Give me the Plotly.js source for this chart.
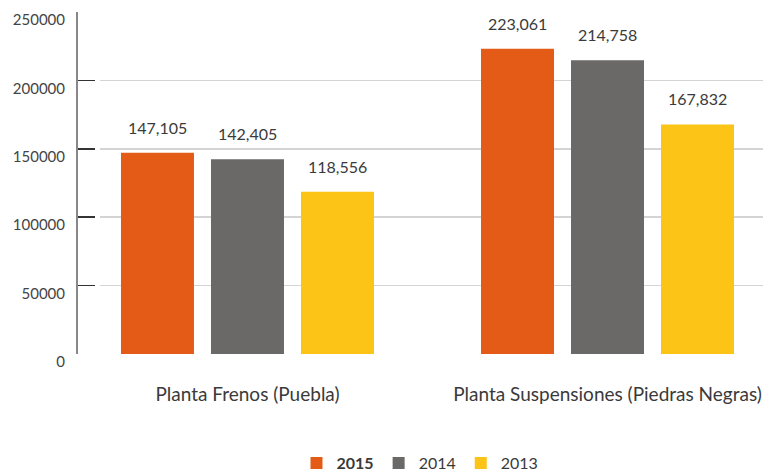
<!DOCTYPE html>
<html><head><meta charset="utf-8">
<script src="https://cdn.plot.ly/plotly-3.0.1.min.js"></script>
<style>html,body{margin:0;padding:0;background:#fff}#c{width:763px;height:471px}</style>
</head><body><div id="c"></div>
<script>
const categories = ["Planta Frenos (Puebla)", "Planta Suspensiones (Piedras Negras)"];
const seriesNames = ["2015", "2014", "2013"];
const values2015 = [147105, 223061];
const values2014 = [142405, 214758];
const values2013 = [118556, 167832];
const colors = ["#E35B16", "#6A6967", "#FCC416"];
const yTicks = [0, 50000, 100000, 150000, 200000, 250000];

const seriesValues = [values2015, values2014, values2013];
const font = "Lato, 'Source Sans Pro', 'Open Sans', sans-serif";

const traces = seriesValues.map((vals, i) => ({
  type: "bar",
  x: categories,
  y: vals,
  name: i === 0 ? "<b>" + seriesNames[i] + "</b>" : seriesNames[i],
  marker: {color: colors[i]},
  hoverinfo: "skip"
}));

const annotations = [];
seriesValues.forEach((vals, i) => {
  vals.forEach((v, j) => {
    annotations.push({
      x: categories[j], y: v, xref: "x", yref: "y",
      text: v.toLocaleString("en-US"),
      showarrow: false, yanchor: "bottom", xanchor: "center",
      xshift: (i - 1) * 90, yshift: 14,
      font: {family: font, size: 16, color: "#3a3a3a"}
    });
  });
});

const layout = {
  width: 763, height: 471,
  margin: {l: 77, r: 0, t: 12, b: 117, autoexpand: false},
  paper_bgcolor: "#fff", plot_bgcolor: "#fff",
  barmode: "group", bargap: 0.25, bargroupgap: 0.189,
  showlegend: true,
  legend: {orientation: "h", x: 0.5, xanchor: "center", y: -0.319, yanchor: "middle",
    font: {family: font, size: 16, color: "#3a3a3a"}, traceorder: "normal"},
  xaxis: {
    domain: [0.0335, 1],
    range: [-0.4097, 1.4319],
    automargin: false,
    showgrid: false, showline: false, zeroline: false, ticks: "",
    tickfont: {family: font, size: 19, color: "#3a3a3a"},
    ticklabelstandoff: 27
  },
  yaxis: {
    anchor: "free", position: 0,
    automargin: false,
    range: [0, 250000],
    tickvals: yTicks, ticktext: yTicks.map(String),
    showgrid: true, gridcolor: "#d4d4d4", gridwidth: 1.5,
    zeroline: false,
    showline: true, linecolor: "#888", linewidth: 2,
    ticks: "inside", ticklen: 17, tickwidth: 1.5, tickcolor: "#333",
    tickfont: {family: font, size: 15, color: "#444"},
    ticklabelshift: 8, ticklabelstandoff: 8
  },
  annotations: annotations
};

Plotly.newPlot("c", traces, layout, {displayModeBar: false, staticPlot: true});
</script></body></html>
